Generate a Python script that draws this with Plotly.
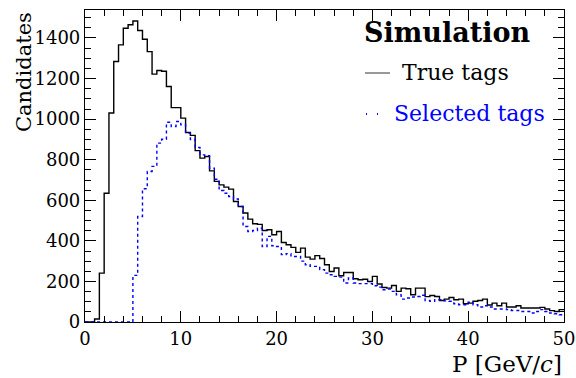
import numpy as np
import plotly.graph_objects as go

bin_low = 0.0
bin_width = 0.5

true_tags = [0, 0, 15, 241, 635, 1030, 1284, 1366, 1448, 1465,
             1484, 1437, 1394, 1333, 1222, 1240, 1236, 1161, 1057, 1057,
             1005, 934, 920, 845, 808, 816, 745, 693, 676, 665,
             655, 594, 569, 537, 507, 484, 481, 451, 455, 430,
             446, 392, 381, 368, 343, 364, 320, 310, 327, 313,
             282, 249, 266, 228, 244, 244, 213, 208, 211, 200,
             225, 187, 170, 167, 180, 151, 167, 164, 134, 167,
             167, 125, 131, 126, 106, 113, 121, 110, 113, 90,
             93, 102, 106, 113, 84, 93, 80, 93, 74, 74,
             80, 69, 69, 69, 69, 72, 64, 56, 52, 61]

selected_tags = [0, 0, 0, 0, 0, 0, 0, 0, 0, 0,
                 230, 520, 657, 742, 767, 882, 901, 985, 964, 988,
                 972, 931, 900, 860, 824, 820, 758, 704, 648, 635,
                 619, 606, 569, 471, 446, 451, 463, 372, 422, 376,
                 372, 332, 337, 323, 323, 300, 282, 274, 274, 258,
                 241, 233, 225, 221, 192, 217, 192, 189, 189, 189,
                 179, 172, 159, 162, 151, 134, 113, 118, 123, 126,
                 132, 106, 102, 110, 110, 104, 102, 90, 85, 85,
                 97, 85, 74, 80, 74, 64, 64, 64, 61, 57,
                 57, 52, 52, 44, 52, 61, 52, 44, 41, 36]

y_ticks = [0, 200, 400, 600, 800, 1000, 1200, 1400]
x_ticks = [0, 10, 20, 30, 40, 50]

FONT = "DejaVu Serif"


def step_xy(counts):
    n = len(counts)
    edges = bin_low + bin_width * np.arange(n + 1)
    ys = list(counts) + [counts[-1]]
    return edges, ys


fig = go.Figure()
ex, ey = step_xy(true_tags)
fig.add_trace(go.Scatter(x=ex, y=ey, mode="lines", line_shape="hv",
                         line=dict(color="black", width=1.4),
                         showlegend=False, hoverinfo="skip"))
sx, sy = step_xy(selected_tags)
fig.add_trace(go.Scatter(x=sx, y=sy, mode="lines", line_shape="hv",
                         line=dict(color="#0000ff", width=1.4, dash="dot"),
                         showlegend=False, hoverinfo="skip"))

W, H = 576, 378
L, R, T, B = 85, 12, 10, 56
pw, ph = W - L - R, H - T - B


def px(xp):
    return (xp - L) / pw


def py(yp):
    return (H - B - yp) / ph


fig.update_layout(
    width=W, height=H,
    margin=dict(l=L, r=R, t=T, b=B, autoexpand=False),
    paper_bgcolor="white", plot_bgcolor="white",
    font=dict(family=FONT, size=18, color="black"),
    showlegend=False,
    xaxis=dict(range=[0, 50], tickvals=x_ticks, ticks="inside", ticklen=11,
               tickwidth=1, tickcolor="black", showline=True, linecolor="black",
               linewidth=1.2, mirror="ticks", showgrid=False, zeroline=False,
               automargin=False,
               tickfont=dict(family=FONT, size=18, color="black"),
               minor=dict(dtick=2, ticks="inside", ticklen=6, tickcolor="black",
                          showgrid=False)),
    yaxis=dict(range=[0, 1538], tickvals=y_ticks, ticks="inside", ticklen=11,
               tickwidth=1, tickcolor="black", showline=True, linecolor="black",
               linewidth=1.2, mirror="ticks", showgrid=False, zeroline=False,
               automargin=False,
               tickfont=dict(family=FONT, size=18, color="black"),
               minor=dict(dtick=50, ticks="inside", ticklen=6, tickcolor="black",
                          showgrid=False)),
)

annotations = [
    dict(text="<b>Simulation</b>", x=px(532), y=py(33), xanchor="right",
         yanchor="middle", font=dict(family=FONT, size=27, color="black")),
    dict(text="True tags", x=px(400), y=py(73), xanchor="left",
         yanchor="middle", font=dict(family=FONT, size=22, color="black")),
    dict(text="Selected tags", x=px(392), y=py(113), xanchor="left",
         yanchor="middle", font=dict(family=FONT, size=22, color="#0000ff")),
    dict(text="Candidates", x=px(24), y=1.0, xanchor="center", yanchor="top",
         textangle=-90, font=dict(family=FONT, size=21, color="black")),
    dict(text="P [GeV/<i>c</i>]", x=1.0, y=py(364), xanchor="right",
         yanchor="middle", font=dict(family=FONT, size=23, color="black")),
]
for a in annotations:
    a.update(xref="paper", yref="paper", showarrow=False)
    fig.add_annotation(**a)

fig.add_shape(type="line", xref="paper", yref="paper",
              x0=px(365), x1=px(390), y0=py(73), y1=py(73),
              line=dict(color="#555555", width=1.2))
fig.add_shape(type="line", xref="paper", yref="paper",
              x0=px(366), x1=px(382), y0=py(114), y1=py(114),
              line=dict(color="#0000ff", width=2, dash="1px,10px"))

fig.write_html("out.html")
